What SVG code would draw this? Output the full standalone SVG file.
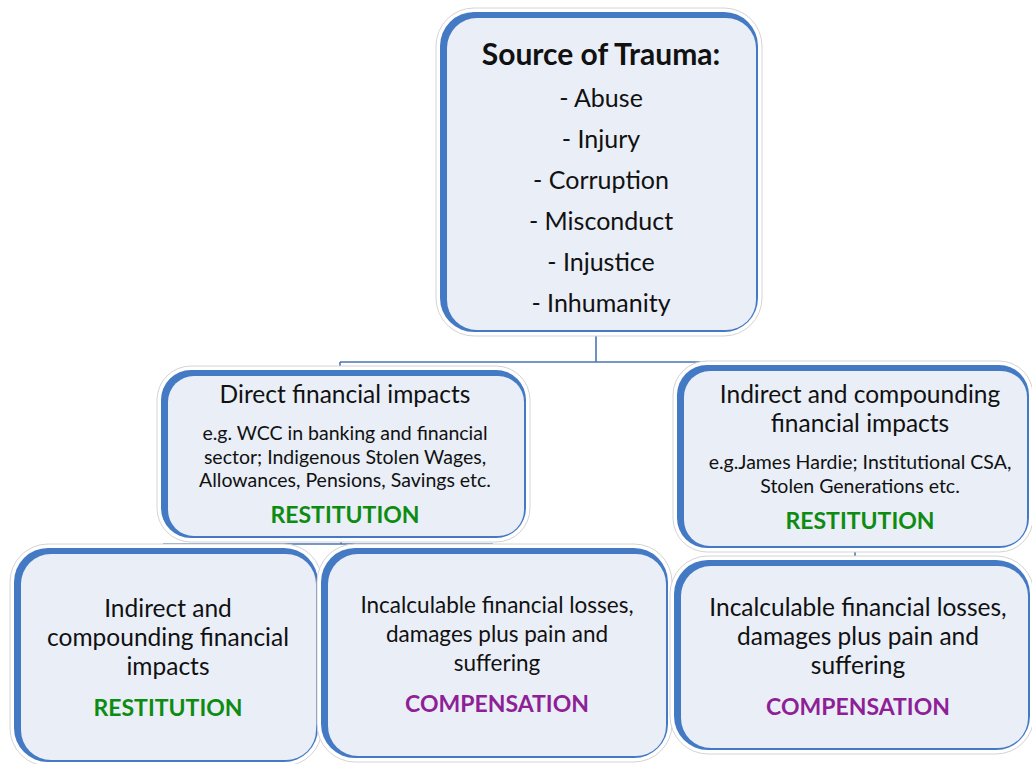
<svg xmlns="http://www.w3.org/2000/svg" width="1032" height="764" viewBox="0 0 1032 764">
<style>
.sh{fill:#ffffff;stroke:#d4d4d4;stroke-width:1}
.bo{fill:#4479C4}
.in{fill:#E9EEF7}
.t{font-family:Lato,"Liberation Sans",sans-serif;fill:#111;text-anchor:middle}
.h{font-size:24.5px}
.m{font-size:22.5px}
.u{font-size:25px}
.s{font-size:19.5px}
.g{font-size:23px;font-weight:bold;fill:#0E8C12}
.p{font-size:23px;font-weight:bold;fill:#8E1F96}
.c{fill:none;stroke:#4A77B5;stroke-width:1.6}
</style>
<rect width="1032" height="764" fill="#ffffff"/>
<g id="connectors">
<path class="c" d="M596,332 V362 M340,362 H855 M340,362 V372 M855,362 V366"/>
<path class="c" d="M341,538 V544 M163,544 H493 M163,544 V549 M493,544 V549"/>
<path class="c" d="M855,548 V561"/>
</g>
<g id="source">
<rect class="sh" x="436" y="8" width="326" height="328" rx="38"/>
<rect class="bo" x="440" y="12" width="318" height="320" rx="34"/>
<rect class="in" x="447" y="18" width="309" height="312" rx="30"/>
<text class="t" x="601" y="65" style="font-size:30px;font-weight:bold">Source of Trauma:</text>
<text class="t u" x="601" y="107">- Abuse</text>
<text class="t u" x="601" y="148">- Injury</text>
<text class="t u" x="601" y="189">- Corruption</text>
<text class="t u" x="601" y="230">- Misconduct</text>
<text class="t u" x="601" y="271">- Injustice</text>
<text class="t u" x="601" y="312">- Inhumanity</text>
</g>
<g id="direct">
<rect class="sh" x="157" y="366" width="373" height="176" rx="34"/>
<rect class="bo" x="161" y="370" width="365" height="168" rx="30"/>
<rect class="in" x="168" y="376" width="356" height="160" rx="26"/>
<text class="t h" x="345" y="403">Direct financial impacts</text>
<text class="t s" x="345" y="440">e.g. WCC in banking and financial</text>
<text class="t s" x="345" y="464">sector; Indigenous Stolen Wages,</text>
<text class="t s" x="345" y="487">Allowances, Pensions, Savings etc.</text>
<text class="t g" x="345" y="523">RESTITUTION</text>
</g>
<g id="indirect">
<rect class="sh" x="673" y="361" width="360" height="191" rx="34"/>
<rect class="bo" x="677" y="365" width="352" height="183" rx="30"/>
<rect class="in" x="684" y="371" width="343" height="175" rx="26"/>
<text class="t h" x="860" y="403">Indirect and compounding</text>
<text class="t h" x="860" y="432">financial impacts</text>
<text class="t s" x="860" y="469">e.g.James Hardie; Institutional CSA,</text>
<text class="t s" x="860" y="493">Stolen Generations etc.</text>
<text class="t g" x="860" y="529">RESTITUTION</text>
</g>
<g id="indirect2">
<rect class="sh" x="10" y="544" width="312" height="222" rx="38"/>
<rect class="bo" x="14" y="548" width="304" height="214" rx="34"/>
<rect class="in" x="21" y="554" width="295" height="206" rx="30"/>
<text class="t h" x="168" y="617">Indirect and</text>
<text class="t h" x="168" y="646">compounding financial</text>
<text class="t h" x="168" y="675">impacts</text>
<text class="t g" x="168" y="716">RESTITUTION</text>
</g>
<g id="losses1">
<rect class="sh" x="317" y="544" width="355" height="218" rx="38"/>
<rect class="bo" x="321" y="548" width="347" height="210" rx="34"/>
<rect class="in" x="328" y="554" width="338" height="202" rx="30"/>
<text class="t m" x="497" y="613">Incalculable financial losses,</text>
<text class="t m" x="497" y="642">damages plus pain and</text>
<text class="t m" x="497" y="671">suffering</text>
<text class="t p" x="497" y="712">COMPENSATION</text>
</g>
<g id="losses2">
<rect class="sh" x="670" y="556" width="364" height="198" rx="38"/>
<rect class="bo" x="674" y="560" width="356" height="190" rx="34"/>
<rect class="in" x="681" y="566" width="347" height="182" rx="30"/>
<text class="t h" x="858" y="616">Incalculable financial losses,</text>
<text class="t h" x="858" y="645">damages plus pain and</text>
<text class="t h" x="858" y="674">suffering</text>
<text class="t p" x="858" y="715">COMPENSATION</text>
</g>
</svg>
